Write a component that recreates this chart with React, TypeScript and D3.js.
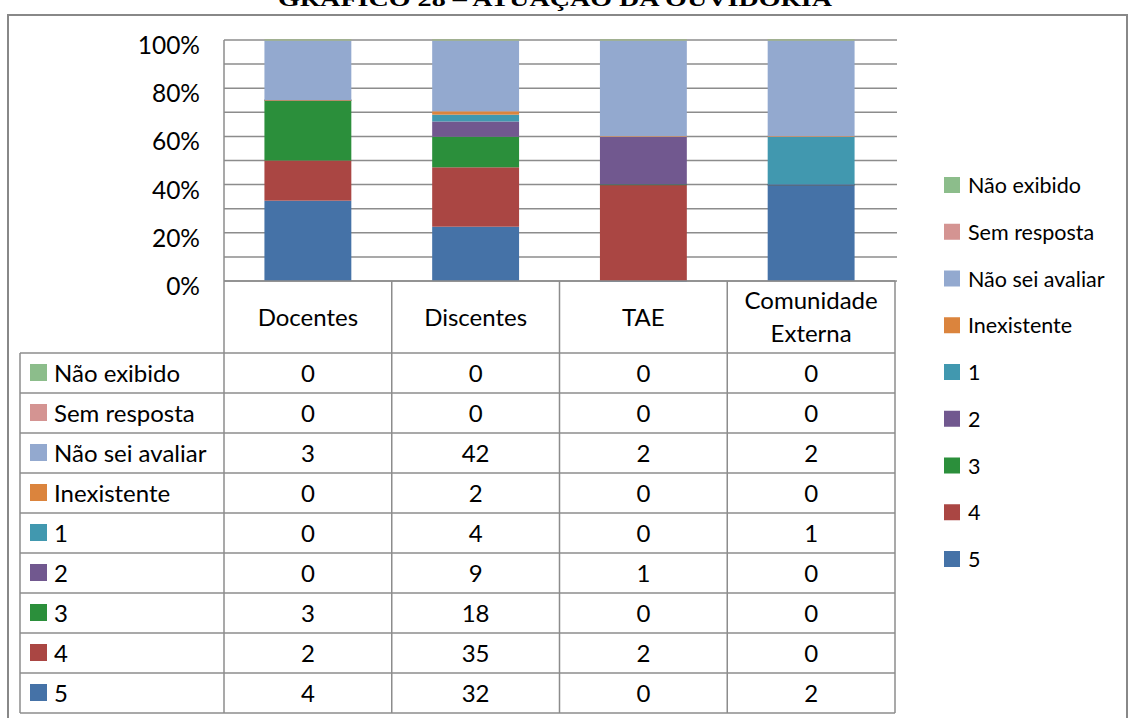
import React from "react";
import * as d3 from "d3";

const categories = ["Docentes", "Discentes", "TAE", "Comunidade Externa"];
const seriesNames = ["Não exibido", "Sem resposta", "Não sei avaliar", "Inexistente", "1", "2", "3", "4", "5"];
const naoExibido = [0, 0, 0, 0];
const semResposta = [0, 0, 0, 0];
const naoSeiAvaliar = [3, 42, 2, 2];
const inexistente = [0, 2, 0, 0];
const nota1 = [0, 4, 0, 1];
const nota2 = [0, 9, 1, 0];
const nota3 = [3, 18, 0, 0];
const nota4 = [2, 35, 2, 0];
const nota5 = [4, 32, 0, 2];
const seriesColors = ["#8CBD8B", "#D49492", "#93A9CF", "#DB843D", "#4198AF", "#71588F", "#2B8F3B", "#AA4643", "#4572A7"];
const yTicks = [0, 0.2, 0.4, 0.6, 0.8, 1];
const gridTicks = [0, 0.1, 0.2, 0.3, 0.4, 0.5, 0.6, 0.7, 0.8, 0.9, 1];
const titleText = "GRÁFICO 28 – ATUAÇÃO DA OUVIDORIA";

const seriesValues = [naoExibido, semResposta, naoSeiAvaliar, inexistente, nota1, nota2, nota3, nota4, nota5];

export default function App() {
  const W = 1129, H = 718;
  const left = 224, right = 895, top = 40, bottom = 281;
  const tableLeft = 20;
  const rowTop = 353, rowH = 40;
  const font = "Lato, 'Open Sans', sans-serif";
  const gridColor = "#8c8c8c";
  const fs = 24;

  const x = d3.scaleBand<string>().domain(categories).range([left, right]).paddingInner(0.482).paddingOuter(0.241);
  const xCol = d3.scaleBand<string>().domain(categories).range([left, right]);
  const y = d3.scaleLinear().domain([0, 1]).range([bottom, top]);

  const rows = categories.map((c, i) => {
    const o: any = { cat: c };
    seriesNames.forEach((s, j) => (o[s] = seriesValues[j][i]));
    return o;
  });
  const keysBottomUp = [...seriesNames].reverse();
  const stacked = d3.stack<any>().keys(keysBottomUp).offset(d3.stackOffsetExpand)(rows);

  const colorOf = (s: string) => seriesColors[seriesNames.indexOf(s)];
  const colBounds = [left, ...categories.map((c) => (xCol(c) as number) + xCol.bandwidth())];
  const tableBottom = rowTop + rowH * seriesNames.length;

  return (
    <svg width={W} height={H} style={{ position: "absolute", left: 0, top: 0, background: "#fff" }}>
      <rect x={0} y={0} width={W} height={H} fill="#fff" />
      <text x={555} y={6} textAnchor="middle" fontFamily="'Liberation Serif', 'Times New Roman', serif" fontWeight="bold" fontSize={22} textLength={554} lengthAdjust="spacingAndGlyphs">{titleText}</text>
      <rect x={8} y={15} width={1119} height={720} fill="none" stroke="#888" strokeWidth={2} />

      {gridTicks.map((t) => (
        <line key={t} x1={left} x2={right + 2} y1={y(t)} y2={y(t)} stroke={gridColor} strokeWidth={1.5} />
      ))}
      <line x1={left} x2={left} y1={top} y2={bottom} stroke={gridColor} strokeWidth={1.5} />
      {yTicks.map((t) => (
        <text key={t} x={200} y={y(t) + 14} textAnchor="end" fontFamily={font} fontSize={24.5} fill="#000">{`${Math.round(t * 100)}%`}</text>
      ))}

      {stacked.map((layer) => (
        <g key={layer.key}>
          {layer.map((d, i) => {
            const y0 = y(d[0]), y1 = y(d[1]);
            const h = y0 - y1;
            const bx = x(categories[i]) as number;
            return h > 0.01 ? (
              <rect key={i} x={bx} y={y1} width={x.bandwidth()} height={h} fill={colorOf(layer.key)} />
            ) : (
              <rect key={i} x={bx} y={y1 - 0.6} width={x.bandwidth()} height={1.2} fill={colorOf(layer.key)} />
            );
          })}
        </g>
      ))}

      <line x1={left} x2={right} y1={bottom} y2={bottom} stroke={gridColor} strokeWidth={1.5} />
      {colBounds.map((cx, i) => (
        <line key={i} x1={cx} x2={cx} y1={bottom} y2={tableBottom} stroke={gridColor} strokeWidth={1.5} />
      ))}
      <line x1={tableLeft} x2={tableLeft} y1={rowTop} y2={tableBottom} stroke={gridColor} strokeWidth={1.5} />
      {d3.range(seriesNames.length + 1).map((i) => (
        <line key={i} x1={tableLeft} x2={right} y1={rowTop + i * rowH} y2={rowTop + i * rowH} stroke={gridColor} strokeWidth={1.5} />
      ))}
      {categories.map((c) => {
        const cx = (xCol(c) as number) + xCol.bandwidth() / 2;
        const parts = c === "Comunidade Externa" ? ["Comunidade", "Externa"] : [c];
        return parts.length === 1 ? (
          <text key={c} x={cx} y={326} textAnchor="middle" fontFamily={font} fontSize={fs}>{c}</text>
        ) : (
          <g key={c}>
            <text x={cx} y={309} textAnchor="middle" fontFamily={font} fontSize={fs}>{parts[0]}</text>
            <text x={cx} y={342} textAnchor="middle" fontFamily={font} fontSize={fs}>{parts[1]}</text>
          </g>
        );
      })}

      {seriesNames.map((s, j) => {
        const cy = rowTop + j * rowH + rowH / 2;
        return (
          <g key={s}>
            <rect x={30} y={cy - 9} width={17} height={17} fill={seriesColors[j]} />
            <text x={54} y={cy + 9} fontFamily={font} fontSize={fs}>{s}</text>
            {categories.map((c, i) => (
              <text key={c} x={(xCol(c) as number) + xCol.bandwidth() / 2} y={cy + 9} textAnchor="middle" fontFamily={font} fontSize={fs}>{seriesValues[j][i]}</text>
            ))}
          </g>
        );
      })}

      {seriesNames.map((s, j) => {
        const cy = 185 + j * 46.75;
        return (
          <g key={s}>
            <rect x={944} y={cy - 8} width={16} height={16} fill={seriesColors[j]} />
            <text x={968} y={cy + 8} fontFamily={font} fontSize={21.5}>{s}</text>
          </g>
        );
      })}
    </svg>
  );
}
